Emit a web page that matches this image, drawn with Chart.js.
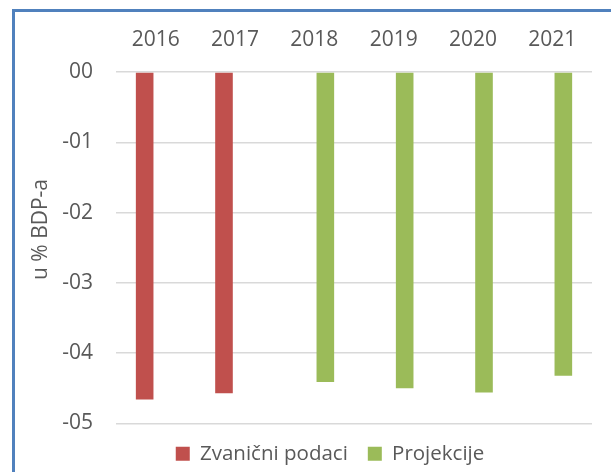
<!DOCTYPE html>
<html>
<head>
<meta charset="utf-8">
<script src="https://cdn.jsdelivr.net/npm/chart.js@4"></script>
<style>
    html, body { margin: 0; padding: 0; background: #fff; overflow: hidden; width: 611px; height: 472px; }
    #frame { position: absolute; left: 12px; top: 9px; width: 700px; height: 600px; border: 3px solid #5081BD; box-sizing: border-box; }
    #chart { position: absolute; left: 0; top: 0; }
</style>
</head>
<body>
<div id="frame"></div>
<canvas id="chart" width="660" height="474"></canvas>
<script>
const years = ['2016', '2017', '2018', '2019', '2020', '2021'];
const zvanicni = [-4.66, -4.57, null, null, null, null];
const projekcije = [null, null, -4.41, -4.50, -4.56, -4.32];
const yTickLabels = ['00', '-01', '-02', '-03', '-04', '-05'];
const seriesNames = ['Zvanični podaci', 'Projekcije'];
const yAxisTitle = 'u % BDP-a';

const FONT = '"Open Sans", sans-serif';
const GREY = '#595959';

// y axis title sits a bit above the plot centre, like in the Excel original
const yTitlePlugin = {
    id: 'yTitle',
    afterDraw(chart) {
        const ctx = chart.ctx;
        ctx.save();
        ctx.translate(47, 229.5);
        ctx.rotate(-Math.PI / 2);
        ctx.font = '21px ' + FONT;
        ctx.fillStyle = GREY;
        ctx.textAlign = 'center';
        ctx.textBaseline = 'alphabetic';
        ctx.fillText(yAxisTitle, 0, 0);
        ctx.restore();
    }
};

new Chart(document.getElementById('chart'), {
    type: 'bar',
    data: {
        labels: years,
        datasets: [
            { label: seriesNames[0], data: zvanicni, backgroundColor: '#C0504D' },
            { label: seriesNames[1], data: projekcije, backgroundColor: '#9BBB59' }
        ]
    },
    options: {
        responsive: false,
        animation: false,
        categoryPercentage: 0.555,
        barPercentage: 0.8,
        layout: { padding: 0 },
        scales: {
            x: {
                position: 'top',
                grid: { display: false, drawTicks: false },
                border: { display: false },
                ticks: { color: GREY, font: { family: FONT, size: 21 }, padding: 19, maxRotation: 0 },
                afterFit(scale) { scale.height = 72; }
            },
            y: {
                min: -5, max: 0,
                grid: { color: '#D9D9D9', lineWidth: 1.5, drawTicks: false },
                border: { display: false },
                ticks: {
                    stepSize: 1, color: GREY, padding: 23,
                    font: { family: FONT, size: 21 },
                    callback: v => yTickLabels[Math.round(-v)]
                },
                afterFit(scale) { scale.width = 116; }
            },
            // empty right-hand axis: keeps the plot narrow while the legend centres on the whole frame
            spacer: {
                type: 'linear',
                position: 'right',
                grid: { display: false, drawTicks: false },
                border: { display: false },
                ticks: { display: false },
                afterFit(scale) { scale.width = 68; }
            }
        },
        plugins: {
            legend: {
                position: 'bottom',
                labels: { boxWidth: 14, boxHeight: 14, padding: 20, color: GREY, font: { family: FONT, size: 20.5 } }
            },
            tooltip: { enabled: false }
        }
    },
    plugins: [yTitlePlugin]
});
</script>
</body>
</html>
